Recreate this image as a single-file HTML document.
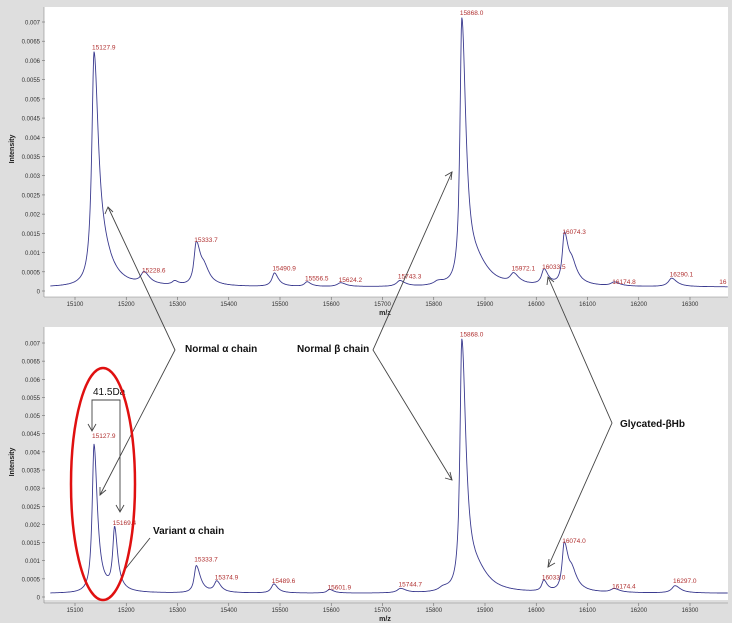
<!DOCTYPE html>
<html><head><meta charset="utf-8"><style>
html,body{margin:0;padding:0;background:#dedede;}
svg{display:block;font-family:"Liberation Sans",sans-serif;}
</style></head><body>
<svg id="s" width="732" height="623" viewBox="0 0 732 623" xmlns="http://www.w3.org/2000/svg">
<rect x="0" y="0" width="732" height="623" fill="#dedede"/>
<rect x="44" y="7" width="684" height="290" fill="#fff"/>
<rect x="44" y="327" width="684" height="273" fill="#fff"/>
<g id="g"></g>
<g font-size="10" font-weight="bold" fill="#111">
<text x="185" y="352">Normal α chain</text>
<text x="297" y="352">Normal β chain</text>
<text x="620" y="427">Glycated-βHb</text>
<text x="153" y="534">Variant α chain</text>
</g>
<text x="93" y="395" font-size="10" fill="#111">41.5Da</text>
<g fill="none" stroke="#444" stroke-width="0.9">
<path d="M92 430 V400 H120 V512"/>
<path d="M88 424 L92 431 L96 424 M116 505 L120 512 L124 505"/>
<path d="M108 207 L175 350 L100 495"/>
<path d="M105 214 L108 207 L113 212 M100 487 L100 495 L106 490"/>
<path d="M452 172 L373 350 L452 480"/>
<path d="M445 176 L452 172 L451 180 M445 478 L452 480 L450 472"/>
<path d="M548 277 L612 423 L548 567"/>
<path d="M547 285 L548 277 L554 282 M549 559 L548 567 L555 563"/>
<path d="M150 538 L123 572"/>
</g>
<ellipse cx="103" cy="484" rx="32" ry="116" fill="none" stroke="#e01010" stroke-width="2.5"/>
</svg>
<script>
const g=document.getElementById('g');
const NS='http://www.w3.org/2000/svg';
function X(m){return 94+(m-15127.9)*0.497;}
function T(m){return 75+(m-15100)*0.5125;}
function el(t,a,txt){const e=document.createElementNS(NS,t);for(const k in a)e.setAttribute(k,a[k]);if(txt!==undefined)e.textContent=txt;g.appendChild(e);return e;}
function panel(y0,ytop,top,peaks,labels){
 const k=(y0-ytop)/0.007;
 for(let i=0;i<=14;i++){const v=i*0.0005,y=y0-v*k;
  el('line',{x1:42,x2:45,y1:y,y2:y,stroke:'#666','stroke-width':0.6});
  let s=v===0?'0':v.toFixed(4).replace(/0+$/,'');
  el('text',{x:40,y:y+2.5,'font-size':6,'text-anchor':'end',fill:'#333'},s);}
 el('line',{x1:44,x2:44,y1:top,y2:y0+6,stroke:'#888','stroke-width':0.6});
 el('line',{x1:44,x2:728,y1:y0+6,y2:y0+6,stroke:'#888','stroke-width':0.6});
 for(let m=15100;m<=16300;m+=100){const x=T(m);
  el('line',{x1:x,x2:x,y1:y0+6,y2:y0+9,stroke:'#666','stroke-width':0.6});
  el('text',{x:x,y:y0+15,'font-size':6,'text-anchor':'middle',fill:'#333'},m);}
 el('text',{x:385,y:y0+24,'font-size':7,'font-weight':'bold','text-anchor':'middle',fill:'#222'},'m/z');
 el('text',{x:14,y:(top+y0)/2,'font-size':7,'font-weight':'bold','text-anchor':'middle',fill:'#222',transform:`rotate(-90 14 ${(top+y0)/2})`},'Intensity');
 let d='';
 for(let m=15040;m<=16420;m+=1){let v=0.0001;
  for(const [c,h,w,tail] of peaks){const dx=m-c;const ww=dx>0?w*(tail||1.6):w;v+=h/(1+(dx/ww)*(dx/ww));}
  const x=X(m);if(x<44||x>728)continue;const y=y0-v*k;d+=(d?'L':'M')+x.toFixed(1)+' '+y.toFixed(1);}
 el('path',{d:d,fill:'none',stroke:'#3b3b8f','stroke-width':0.9});
 for(const [m,t,h] of labels){el('text',{x:X(m)-2,y:y0-h*k-3,'font-size':6.5,fill:'#b03030'},t);}
}
panel(291,22,7,[[15127.9,0.006,5.5,2],[15150,0.0004,15],[15228.6,0.0003,8],[15290,0.0001,6],[15333.7,0.0011,5.5,2],[15350,0.0003,8],[15490.9,0.00035,6],[15556.5,0.00012,6],[15624.2,0.0001,8],[15743.3,0.00015,8],[15820,0.0001,10],[15868,0.0069,4.5,2.2],[15900,0.0004,18],[15972.1,0.00025,8],[16033.5,0.0004,6],[16074.3,0.0013,5,2],[16090,0.0004,8],[16174.8,0.0001,8],[16290.1,0.00022,8]],
 [[15127.9,'15127.9',0.0062],[15228.6,'15228.6',0.0004],[15333.7,'15333.7',0.0012],[15490.9,'15490.9',0.00045],[15556.5,'15556.5',0.0002],[15624.2,'15624.2',0.00015],[15743.3,'15743.3',0.00025],[15868,'15868.0',0.0071],[15972.1,'15972.1',0.00045],[16033.5,'16033.5',0.0005],[16074.3,'16074.3',0.0014],[16174.8,'16174.8',0.0001],[16290.1,'16290.1',0.0003],[16390,'16',0.0001]]);
panel(597,343,327,[[15127.9,0.0041,4.5,1.8],[15169.4,0.0017,4.5,1.6],[15333.7,0.00075,5,2],[15374.9,0.0003,6],[15489.6,0.00025,6],[15601.9,0.0001,6],[15744.7,0.00012,8],[15830,0.0001,10],[15868,0.0069,4.5,2.2],[15900,0.0004,18],[16033,0.0003,5],[16074,0.0013,5,2],[16090,0.0004,8],[16174.4,0.0001,8],[16297,0.0002,8]],
 [[15127.9,'15127.9',0.0043],[15169.4,'15169.4',0.0019],[15333.7,'15333.7',0.0009],[15374.9,'15374.9',0.0004],[15489.6,'15489.6',0.0003],[15601.9,'15601.9',0.00012],[15744.7,'15744.7',0.0002],[15868,'15868.0',0.0071],[16033,'16033.0',0.0004],[16074,'16074.0',0.0014],[16174.4,'16174.4',0.00015],[16297,'16297.0',0.0003]]);
</script>
</body></html>
